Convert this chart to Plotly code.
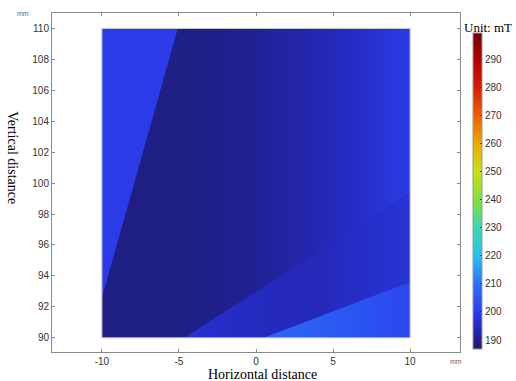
import plotly.graph_objects as go
from plotly.colors import sample_colorscale

# ---------------- data ----------------
CMIN, CMAX = 186.8, 299.6
CBAR_TICKS = [190, 200, 210, 220, 230, 240, 250, 260, 270, 280, 290]
X_TICKS = [-10, -5, 0, 5, 10]
X_TICK_TEXT = ["-10", "-5", "0", "5", "10"]
Y_TICKS = [90, 92, 94, 96, 98, 100, 102, 104, 106, 108, 110]

# colour map (value -> colour)
SCALE_VALUES = [186.8, 190, 195, 200, 210, 220, 230, 240, 250, 260, 270, 280, 290, 299.6]
SCALE_COLORS = ["rgb(30,28,110)", "rgb(32,32,145)", "rgb(36,42,190)", "rgb(44,60,236)",
                "rgb(42,112,248)", "rgb(40,190,240)", "rgb(60,215,175)", "rgb(130,222,60)",
                "rgb(205,222,20)", "rgb(235,172,0)", "rgb(236,95,0)", "rgb(215,28,0)",
                "rgb(178,0,0)", "rgb(115,0,0)"]

# field regions: polygon vertices (mm) and horizontal value profiles
STRIP_X = [-10, -10, -5.08]
STRIP_Y = [92.6, 110, 110]
STRIP_VALUE = 199.6

MAIN_X = [-10, -5.08, 10, 10, -4.63, -10]
MAIN_Y = [92.6, 110, 110, 99.33, 90, 90]
MAIN_PROF_X = [-10, -5, -2, 0, 2, 4, 6, 8, 10]
MAIN_PROF_V = [188.6, 188.8, 189.6, 190.6, 192.0, 193.6, 195.4, 197.4, 199.4]

MID_X = [-4.63, 10, 10, 0.5]
MID_Y = [90, 99.33, 93.6, 90]
MID_PROF_X = [-4.63, 0, 4, 10]
MID_PROF_V = [197.0, 195.0, 194.5, 197.5]

LOW_X = [0.5, 10, 10]
LOW_Y = [90, 93.6, 90]
LOW_PROF_X = [0.5, 3, 6, 10]
LOW_PROF_V = [208.0, 207.0, 205.0, 202.0]

SQUARE_X = [-10, 10, 10, -10, -10]
SQUARE_Y = [90, 90, 110, 110, 90]

# ---------------- build ----------------
fr = [(v - CMIN) / (CMAX - CMIN) for v in SCALE_VALUES]
colorscale = [[f, c] for f, c in zip(fr, SCALE_COLORS)]


def col(v):
    return sample_colorscale(colorscale, [(v - CMIN) / (CMAX - CMIN)])[0]


def gradient(px, pv):
    x0, x1 = px[0], px[-1]
    return dict(type="horizontal", start=x0, stop=x1,
                colorscale=[[(x - x0) / (x1 - x0), col(v)] for x, v in zip(px, pv)])


fig = go.Figure()

fig.add_trace(go.Scatter(x=SQUARE_X, y=SQUARE_Y, fill="toself", mode="lines",
                         line=dict(width=0), fillcolor=col(194), hoverinfo="skip",
                         showlegend=False))
fig.add_trace(go.Scatter(x=MAIN_X + [MAIN_X[0]], y=MAIN_Y + [MAIN_Y[0]], fill="toself",
                         mode="lines", line=dict(width=0),
                         fillgradient=gradient(MAIN_PROF_X, MAIN_PROF_V),
                         hoverinfo="skip", showlegend=False))
fig.add_trace(go.Scatter(x=STRIP_X + [STRIP_X[0]], y=STRIP_Y + [STRIP_Y[0]], fill="toself",
                         mode="lines", line=dict(width=0), fillcolor=col(STRIP_VALUE),
                         hoverinfo="skip", showlegend=False))
fig.add_trace(go.Scatter(x=MID_X + [MID_X[0]], y=MID_Y + [MID_Y[0]], fill="toself",
                         mode="lines", line=dict(width=0),
                         fillgradient=gradient(MID_PROF_X, MID_PROF_V),
                         hoverinfo="skip", showlegend=False))
fig.add_trace(go.Scatter(x=LOW_X + [LOW_X[0]], y=LOW_Y + [LOW_Y[0]], fill="toself",
                         mode="lines", line=dict(width=0),
                         fillgradient=gradient(LOW_PROF_X, LOW_PROF_V),
                         hoverinfo="skip", showlegend=False))
fig.add_trace(go.Scatter(x=SQUARE_X, y=SQUARE_Y, mode="lines",
                         line=dict(color="#c8c8c8", width=1), hoverinfo="skip",
                         showlegend=False))
fig.add_trace(go.Scatter(
    x=[None], y=[None], mode="markers", showlegend=False,
    marker=dict(color=[CMIN], colorscale=colorscale, cmin=CMIN, cmax=CMAX, showscale=True,
                colorbar=dict(x=1.029, xanchor="left", y=0.475, yanchor="middle",
                              len=0.932, lenmode="fraction", thickness=9, thicknessmode="pixels",
                              xpad=0, ypad=0, outlinewidth=1, outlinecolor="#999999",
                              tickvals=CBAR_TICKS, ticks="inside", ticklen=2,
                              tickcolor="#333333",
                              tickfont=dict(family="Liberation Sans", size=10, color="#333333")))))

axis_common = dict(showgrid=False, zeroline=False, showline=True, linecolor="#8a8a8a",
                   linewidth=1, mirror="ticks", ticks="inside", ticklen=3,
                   tickcolor="#8a8a8a",
                   tickfont=dict(family="Liberation Sans", size=10, color="#333333"))

fig.update_layout(
    width=516, height=381,
    margin=dict(l=52, r=55, t=13, b=29),
    paper_bgcolor="white", plot_bgcolor="white",
    xaxis=dict(range=[-13.24, 13.24], tickvals=X_TICKS, ticktext=X_TICK_TEXT, **axis_common),
    yaxis=dict(range=[89.08, 111.0], tickvals=Y_TICKS, **axis_common),
    annotations=[
        dict(text="Horizontal distance", x=0.516, y=-0.065, xref="paper", yref="paper",
             xanchor="center", yanchor="middle", showarrow=False,
             font=dict(family="Liberation Serif", size=14, color="black")),
        dict(text="Vertical distance", x=-0.096, y=0.572, xref="paper", yref="paper",
             xanchor="center", yanchor="middle", showarrow=False, textangle=90,
             font=dict(family="Liberation Serif", size=14, color="black")),
        dict(text="Unit: mT", x=1.005, y=0.9587, xref="paper", yref="paper",
             xanchor="left", yanchor="middle", showarrow=False,
             font=dict(family="Liberation Serif", size=13, color="black")),
        dict(text="mm", x=-0.07, y=1.0, xref="paper", yref="paper",
             xanchor="center", yanchor="middle", showarrow=False,
             font=dict(family="Liberation Sans", size=7, color="#666666")),
        dict(text="mm", x=0.99, y=-0.029, xref="paper", yref="paper",
             xanchor="center", yanchor="middle", showarrow=False,
             font=dict(family="Liberation Sans", size=7, color="#666666")),
    ],
)

# remove the browser's default 8 px page margin so the figure sits at the window origin
fig.write_html("out.html", config={"displayModeBar": False},
               post_script="document.body.style.margin='0px';")
